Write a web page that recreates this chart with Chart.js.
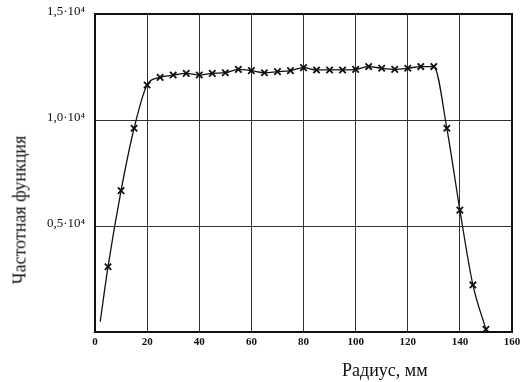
<!DOCTYPE html>
<html>
<head>
<meta charset="utf-8">
<script src="https://cdn.jsdelivr.net/npm/chart.js@4"></script>
<style>
  html, body { margin: 0; padding: 0; background: #fff; }
  #wrap { position: relative; width: 524px; height: 382px; }
  canvas { position: absolute; left: 0; top: 0; }
  .ttl { position: absolute; font-family: "Liberation Serif", "DejaVu Serif", serif; color: #111; white-space: nowrap; }
  #xt { left: 342px; top: 360px; font-size: 18px; }
  #yt { left: 20px; top: 210px; font-size: 18px; transform: translate(-50%, -50%) rotate(-90deg); }
</style>
</head>
<body>
<div id="wrap">
  <canvas id="c" width="524" height="382"></canvas>
  <div class="ttl" id="xt">Радиус, мм</div>
  <div class="ttl" id="yt">Частотная функция</div>
</div>
<script>
const radius = [2, 5, 10, 15, 20, 25, 30, 35, 40, 45, 50, 55, 60, 65, 70, 75, 80, 85, 90, 95, 100, 105, 110, 115, 120, 125, 130, 135, 140, 145, 150];
const freq = [490, 3080, 6670, 9610, 11650, 12010, 12120, 12200, 12120, 12200, 12230, 12390, 12330, 12230, 12280, 12330, 12470, 12360, 12360, 12360, 12390, 12520, 12440, 12390, 12440, 12520, 12520, 9610, 5750, 2220, 130];
const markerShown = radius.map((r, i) => i === 0 ? 0 : 4.5);
const xTicks = [0, 20, 40, 60, 80, 100, 120, 140, 160];
const yTickValues = [0, 5000, 10000, 15000];
const yTickLabels = ['', '0,5·10⁴', '1,0·10⁴', '1,5·10⁴'];

const borderPlugin = {
  id: 'frame',
  afterDraw(chart) {
    const a = chart.chartArea, ctx = chart.ctx;
    ctx.save();
    ctx.strokeStyle = '#111';
    ctx.lineWidth = 2;
    ctx.strokeRect(a.left, a.top, a.right - a.left, a.bottom - a.top);
    ctx.restore();
  }
};

new Chart(document.getElementById('c'), {
  type: 'line',
  data: {
    datasets: [{
      data: radius.map((r, i) => ({ x: r, y: freq[i] })),
      borderColor: '#111',
      borderWidth: 1.3,
      pointStyle: 'crossRot',
      pointRadius: markerShown,
      pointBorderColor: '#111',
      pointBorderWidth: 1.8,
      cubicInterpolationMode: 'monotone',
      fill: false
    }]
  },
  plugins: [borderPlugin],
  options: {
    responsive: false,
    animation: false,
    layout: { padding: { left: 0, right: 12, top: 14, bottom: 0 } },
    plugins: { legend: { display: false }, tooltip: { enabled: false } },
    scales: {
      x: {
        type: 'linear', min: 0, max: 160,
        afterBuildTicks(s) { s.ticks = xTicks.map(v => ({ value: v })); },
        afterFit(s) { s.height = 50; s.paddingLeft = 0; s.paddingRight = 0; },
        grid: { color: '#333', lineWidth: 1, drawTicks: false },
        border: { display: false },
        ticks: {
          padding: 4,
          color: '#111',
          font: { family: 'Liberation Serif', size: 11, weight: 'bold' },
          maxRotation: 0
        }
      },
      y: {
        type: 'linear', min: 0, max: 15000,
        afterBuildTicks(s) { s.ticks = yTickValues.map(v => ({ value: v })); },
        afterFit(s) { s.width = 95; s.paddingTop = 0; s.paddingBottom = 0; },
        grid: { color: '#333', lineWidth: 1, drawTicks: false },
        border: { display: false },
        ticks: {
          padding: 10,
          labelOffset: -2,
          color: '#111',
          font: { family: 'Liberation Serif', size: 13 },
          callback: (v) => yTickLabels[yTickValues.indexOf(v)]
        }
      }
    }
  }
});
</script>
</body>
</html>
